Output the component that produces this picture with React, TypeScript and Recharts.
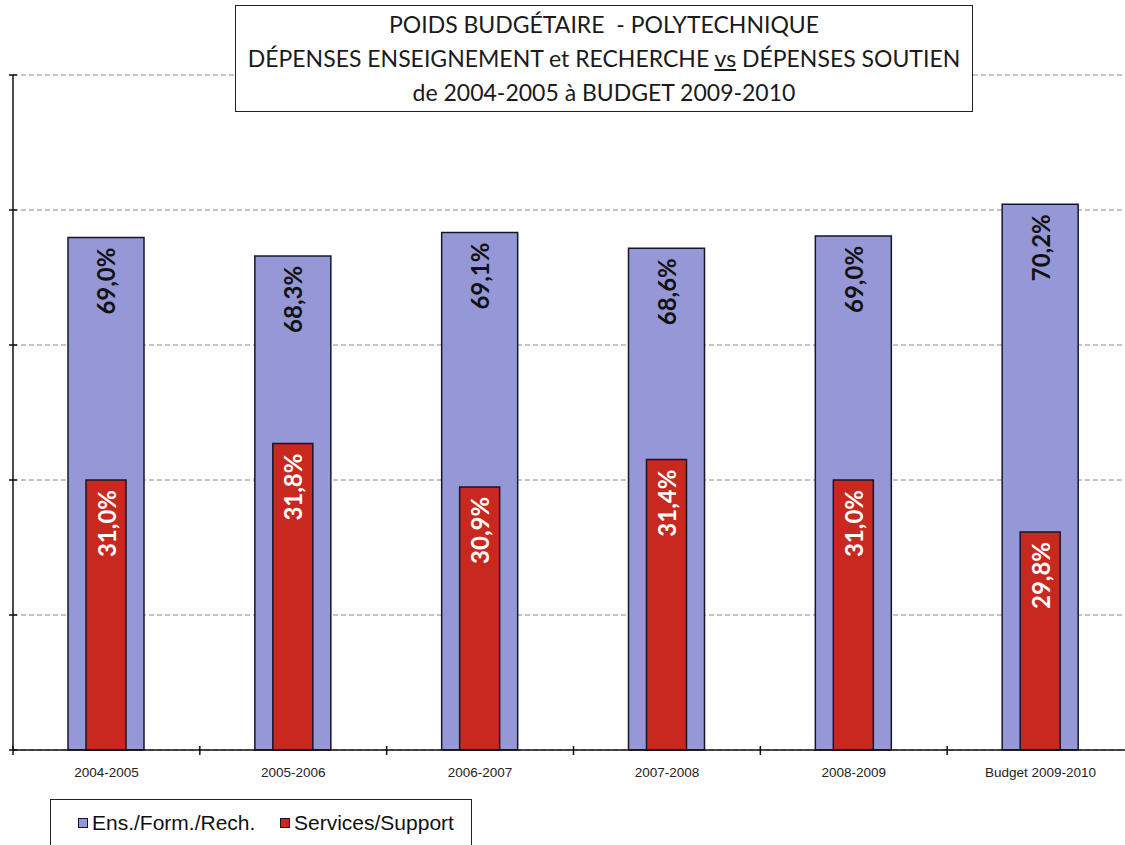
import React from "react";
import { BarChart, Bar, XAxis, YAxis, CartesianGrid, LabelList, Legend } from "recharts";

const categories = ["2004-2005", "2005-2006", "2006-2007", "2007-2008", "2008-2009", "Budget 2009-2010"];
// bar heights in the source are budget amounts (unlabelled axis), labels are shares
const ensValues = [37.96, 36.6, 38.33, 37.17, 38.08, 40.43];
const supportValues = [20.0, 22.7, 19.49, 21.51, 20.0, 16.15];
const ensLabels = ["69,0%", "68,3%", "69,1%", "68,6%", "69,0%", "70,2%"];
const supportLabels = ["31,0%", "31,8%", "30,9%", "31,4%", "31,0%", "29,8%"];
const yTicks = [0, 10, 20, 30, 40, 50];

const seriesNames = ["Ens./Form./Rech.", "Services/Support"];

const BLUE = "#9697d6";
const RED = "#c9281f";
const EDGE = "#16162a";

const CHART_W = 1140;
const CHART_H = 845;
const Y_W = 6;
const MARGIN = { top: 75, right: 6, bottom: 65, left: 13 - Y_W };
const BAND = (CHART_W - 13 - MARGIN.right) / categories.length;

const data = categories.map((name, i) => ({
  name,
  ens: ensValues[i],
  support: supportValues[i],
  ensLabel: ensLabels[i],
  supportLabel: supportLabels[i],
}));

function XTick(props: any) {
  const { x, y, payload } = props;
  const bx = x - BAND / 2;
  return (
    <g>
      <line x1={bx} x2={bx} y1={y - 4} y2={y + 5} stroke="#111" strokeWidth={1.5} />
      <text
        x={x}
        y={y + 27}
        textAnchor="middle"
        fontFamily="'Liberation Sans', Arial, sans-serif"
        fontSize={13.5}
        fill="#222"
      >
        {payload.value}
      </text>
    </g>
  );
}

function YTick(props: any) {
  const { x, y } = props;
  return <line x1={x - 4} x2={x + 4} y1={y} y2={y} stroke="#111" strokeWidth={1.5} />;
}

function makeLabel(color: string, gap: number) {
  return (props: any) => {
    const { x, y, width, value } = props;
    const cx = x + width / 2;
    const ty = y + gap;
    return (
      <text
        x={cx}
        y={ty}
        transform={`rotate(-90 ${cx} ${ty})`}
        textAnchor="end"
        dominantBaseline="central"
        fill={color}
        fontFamily="Lato, 'Open Sans', sans-serif"
        fontWeight={700}
        fontSize={24}
      >
        {value}
      </text>
    );
  };
}

function LegendBox() {
  const items = [
    { name: seriesNames[0], color: BLUE, w: 202 },
    { name: seriesNames[1], color: RED, w: 180 },
  ];
  return (
    <div
      style={{
        display: "flex",
        alignItems: "center",
        height: 60,
        paddingLeft: 27,
        paddingBottom: 12,
        boxSizing: "border-box",
        border: "1.5px solid #222",
        background: "#fff",
      }}
    >
      {items.map((it) => (
        <div key={it.name} style={{ display: "flex", alignItems: "center", width: it.w }}>
          <span
            style={{
              display: "inline-block",
              width: 8,
              height: 8,
              background: it.color,
              border: `1.5px solid ${EDGE}`,
              marginRight: 4,
            }}
          />
          <span style={{ fontFamily: "'Liberation Sans', Arial, sans-serif", fontSize: 21, color: "#111" }}>
            {it.name}
          </span>
        </div>
      ))}
    </div>
  );
}

export default function App() {
  return (
    <div
      style={{
        position: "absolute",
        left: 0,
        top: 0,
        width: 1125,
        height: 845,
        overflow: "hidden",
        background: "#fff",
      }}
    >
      <BarChart width={CHART_W} height={CHART_H} data={data} margin={MARGIN}>
        <CartesianGrid vertical={false} stroke="#8a8a8a" strokeDasharray="5 3" />
        <XAxis
          xAxisId="back"
          dataKey="name"
          height={30}
          axisLine={{ stroke: "#111", strokeWidth: 1.5 }}
          tickLine={false}
          tickSize={0}
          tickMargin={0}
          interval={0}
          tick={<XTick />}
        />
        <XAxis xAxisId="front" dataKey="name" hide />
        <YAxis
          width={Y_W}
          domain={[0, 50]}
          ticks={yTicks}
          axisLine={{ stroke: "#111", strokeWidth: 1.5 }}
          tickLine={false}
          tickSize={0}
          tickMargin={0}
          tick={<YTick />}
        />
        <Legend
          layout="horizontal"
          verticalAlign="middle"
          align="center"
          content={<LegendBox />}
          wrapperStyle={{
            position: "absolute",
            left: 50,
            top: 799,
            width: 422,
            height: 60,
          }}
        />
        <Bar
          xAxisId="back"
          dataKey="ens"
          name={seriesNames[0]}
          fill={BLUE}
          stroke={EDGE}
          strokeWidth={1.5}
          barSize={76}
          isAnimationActive={false}
        >
          <LabelList dataKey="ensLabel" content={makeLabel("#111", 10)} />
        </Bar>
        <Bar
          xAxisId="front"
          dataKey="support"
          name={seriesNames[1]}
          fill={RED}
          stroke={EDGE}
          strokeWidth={1.5}
          barSize={40}
          isAnimationActive={false}
        >
          <LabelList dataKey="supportLabel" content={makeLabel("#fff", 10)} />
        </Bar>
      </BarChart>
      <div
        style={{
          position: "absolute",
          left: 235,
          top: 5,
          width: 738,
          height: 107,
          boxSizing: "border-box",
          border: "1.5px solid #222",
          background: "#fff",
          textAlign: "center",
          fontFamily: "Lato, 'Open Sans', sans-serif",
          fontSize: 23,
          lineHeight: "34px",
          paddingTop: 1,
          color: "#1a1a1a",
        }}
      >
        <div>POIDS BUDGÉTAIRE&nbsp; - POLYTECHNIQUE</div>
        <div>
          DÉPENSES ENSEIGNEMENT et RECHERCHE <span style={{ textDecoration: "underline" }}>vs</span> DÉPENSES SOUTIEN
        </div>
        <div>de 2004-2005 à BUDGET 2009-2010</div>
      </div>
    </div>
  );
}
